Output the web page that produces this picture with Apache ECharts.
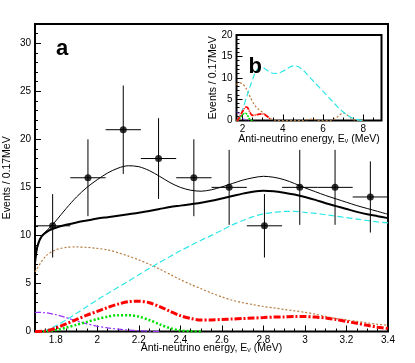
<!DOCTYPE html>
<html><head><meta charset="utf-8">
<script src="https://cdn.jsdelivr.net/npm/echarts@6/dist/echarts.min.js"></script>
<style>html,body{margin:0;padding:0;background:#fff}#c{width:415px;height:363px}</style>
</head><body><div id="c"></div>
<script>
// ---- data ----
const eBlack = [1.7,1.711,1.732,1.77,1.8,1.85,1.9,1.95,2.0,2.05,2.1,2.15,2.2,2.25,2.3,2.35,2.4,2.45,2.5,2.55,2.6,2.65,2.7,2.75,2.8,2.85,2.9,2.95,3.0,3.05,3.1,3.15,3.2,3.25,3.3,3.35,3.4];
const fitWithGeo = [7.1,8.8,9.9,10.8,11.5,12.8,14.0,15.0,15.8,16.5,17.0,17.25,17.15,16.75,16.15,15.5,15.0,14.7,14.6,14.75,15.05,15.4,15.75,16.0,16.15,16.05,15.8,15.4,14.95,14.55,14.15,13.8,13.45,13.1,12.8,12.5,12.2];
const fitNoGeo = [7.1,8.8,9.9,10.55,10.8,11.1,11.35,11.55,11.75,11.9,12.05,12.2,12.35,12.55,12.75,12.95,13.1,13.25,13.4,13.6,13.85,14.1,14.35,14.55,14.65,14.6,14.45,14.25,14.0,13.7,13.35,13.05,12.75,12.45,12.2,12.0,11.8];

const eMain = [1.7,1.75,1.8,1.85,1.9,1.95,2.0,2.05,2.1,2.15,2.2,2.25,2.3,2.35,2.4,2.45,2.5,2.55,2.6,2.65,2.7,2.75,2.8,2.85,2.9,2.95,3.0,3.05,3.1,3.15,3.2,3.25,3.3,3.35,3.4];
const reactor = [0,0.1,0.6,1.2,1.9,2.6,3.3,3.95,4.6,5.25,5.9,6.55,7.2,7.8,8.4,8.95,9.5,10.0,10.55,11.1,11.55,11.95,12.25,12.4,12.5,12.5,12.4,12.3,12.15,12.0,11.85,11.7,11.55,11.4,11.3];
const alphaN = [6.2,7.8,8.5,8.75,8.8,8.75,8.65,8.5,8.2,7.85,7.45,7.0,6.5,5.95,5.4,4.9,4.45,4.0,3.6,3.25,3.0,2.8,2.6,2.45,2.3,2.15,2.0,1.8,1.55,1.35,1.2,1.05,0.9,0.75,0.65];
const uranium = [0,0.05,0.35,0.8,1.25,1.7,2.1,2.5,2.85,3.1,3.15,3.0,2.6,2.1,1.65,1.35,1.2,1.2,1.25,1.3,1.35,1.4,1.45,1.5,1.52,1.55,1.55,1.5,1.4,1.25,1.05,0.85,0.65,0.45,0.3];
const thorium = [0,0.02,0.15,0.4,0.7,1.0,1.3,1.55,1.7,1.7,1.55,1.2,0.75,0.35,0.1,0.02,0,null,null,null,null,null,null,null,null,null,null,null,null,null,null,null,null,null,null];
const accidental = [2.0,1.95,1.75,1.45,1.1,0.8,0.55,0.38,0.25,0.15,0.08,0.03,0,null,null,null,null,null,null,null,null,null,null,null,null,null,null,null,null,null,null,null,null,null,null];

const eInset = [1.7,1.8,2.0,2.2,2.4,2.6,2.8,3.0,3.2,3.4,3.6,3.8,4.0,4.2,4.4,4.6,4.8,5.0,5.2,5.4,5.6,5.8,6.0,6.2,6.4,6.6,6.8,7.0,7.2,7.4,7.6,7.8,8.0];
const reactorInset = [0,0.2,2.5,5.5,8.3,10.8,12.3,12.4,11.8,11.2,11.0,11.1,11.5,12.1,12.6,12.8,12.5,11.8,10.8,9.8,8.8,7.8,6.8,5.8,4.8,3.8,2.8,2.0,1.3,0.7,0.3,0.1,0];
const alphaNInset = [8.4,8.8,8.6,7.3,5.3,3.6,2.6,1.9,1.1,0.4,0.1,0,0,0,0,0,0,0,0.2,0.3,0.2,0,0,0,0,0.4,1.2,1.8,1.3,0.5,0.1,0,0];

const binCenters = [1.785,1.955,2.125,2.295,2.465,2.635,2.805,2.975,3.145,3.315];
const events = [11,16,21,18,16,15,11,15,15,14];
const eventErr = [3.3,4.0,4.6,4.2,4.0,3.9,3.3,3.9,3.9,3.7];
const binHalfWidth = 0.085;

const mainXTicks = [1.8,2.0,2.2,2.4,2.6,2.8,3.0,3.2,3.4];
const mainYTicks = [0,5,10,15,20,25,30];
const insetXTicks = [2,4,6,8];
const insetYTicks = [0,5,10,15,20];

// ---- helpers ----
const zip = (xs, ys) => xs.map((x, i) => [x, ys[i]]);
const steps = (a, b, s) => { const r = []; for (let v = a; v <= b + 1e-9; v += s) r.push(Math.round(v * 1000) / 1000); return r; };
const FONT = 'Liberation Sans, Arial, Helvetica, sans-serif';
const xTitle = 'Anti-neutrino energy, E{s|ν} (MeV)';
const xRich = { s: { fontSize: 7, fontFamily: FONT, color: '#000', verticalAlign: 'bottom', lineHeight: 7, padding: [6, 0, 0, 0] } };

function majorAxis(grid, min, max, ticks, name, nameGap) {
  return {
    gridIndex: grid, type: 'value', min, max,
    axisLine: { show: false }, splitLine: { show: false },
    axisTick: { show: true, inside: true, length: 6, customValues: ticks, lineStyle: { color: '#000', width: 1 } },
    axisLabel: { customValues: ticks, color: '#000', fontSize: 10, fontFamily: FONT, margin: 4 },
    name, nameLocation: 'middle', nameGap, nameMoveOverlap: false,
    nameTextStyle: { color: '#000', fontSize: 10.5, fontFamily: FONT, rich: xRich }
  };
}
function minorAxis(grid, min, max, ticks) {
  return {
    gridIndex: grid, type: 'value', min, max,
    axisLine: { show: false }, splitLine: { show: false }, axisLabel: { show: false },
    axisTick: { show: true, inside: true, length: 3, customValues: ticks, lineStyle: { color: '#000', width: 1 } }
  };
}
function lineSeries(xi, yi, data, color, width, type, z) {
  return { type: 'line', xAxisIndex: xi, yAxisIndex: yi, data, showSymbol: false, symbol: 'none', smooth: 0.3,
    connectNulls: false, lineStyle: { color, width, type }, z: z || 2, silent: true, animation: false };
}

const mainGrid = { left: 35, right: 27, top: 24, bottom: 31.5, outerBoundsMode: 'none', containLabel: false };
const insetGrid = { left: 236.5, right: 33.5, top: 35, bottom: 242.5, outerBoundsMode: 'none', containLabel: false };

const chart = echarts.init(document.getElementById('c'), null, { renderer: 'canvas' });
chart.setOption({
  animation: false,
  backgroundColor: '#fff',
  grid: [
    Object.assign({ show: true, borderColor: '#000', borderWidth: 2, backgroundColor: 'transparent' }, mainGrid),
    Object.assign({ show: false }, mainGrid),
    Object.assign({ show: true, borderColor: '#000', borderWidth: 2, backgroundColor: '#fff' }, insetGrid),
    Object.assign({ show: false }, insetGrid)
  ],
  xAxis: [
    majorAxis(0, 1.7, 3.4, mainXTicks, xTitle, 11.5),
    minorAxis(1, 1.7, 3.4, steps(1.7, 3.4, 0.05)),
    majorAxis(2, 1.7, 8.9, insetXTicks, xTitle, 13),
    minorAxis(3, 1.7, 8.9, steps(2, 8.5, 0.5))
  ],
  yAxis: [
    majorAxis(0, 0, 32, mainYTicks, 'Events / 0.17MeV', 22),
    minorAxis(1, 0, 32, steps(0, 32, 1)),
    majorAxis(2, 0, 20, insetYTicks, 'Events / 0.17MeV', 18),
    minorAxis(3, 0, 20, steps(0, 20, 1))
  ],
  graphic: [
    { type: 'text', x: 56, y: 49, style: { text: 'a', font: 'bold 22px ' + FONT, fill: '#000', verticalAlign: 'middle' }, z: 100 },
    { type: 'text', x: 248.5, y: 66.5, style: { text: 'b', font: 'bold 22px ' + FONT, fill: '#000', verticalAlign: 'middle' }, z: 100 }
  ],
  series: [
    lineSeries(0, 0, zip(eMain, alphaN), '#b87a3d', 1.2, [2, 2]),
    lineSeries(0, 0, zip(eMain, reactor), '#2ee6e6', 1.2, [6, 3]),
    lineSeries(0, 0, zip(eMain, accidental), '#9933ff', 1.2, [6, 2, 2, 2]),
    lineSeries(0, 0, zip(eMain, thorium), '#00e000', 2.5, [2, 2]),
    lineSeries(0, 0, zip(eMain, uranium), '#ff0000', 3, [7, 2, 2, 2]),
    lineSeries(0, 0, zip(eBlack, fitNoGeo), '#000', 2, 'solid', 3),
    lineSeries(0, 0, zip(eBlack, fitWithGeo), '#000', 1, 'solid', 3),
    {
      type: 'custom', xAxisIndex: 0, yAxisIndex: 0, z: 4, silent: true,
      data: binCenters.map((x, i) => [x, events[i], eventErr[i]]),
      encode: { x: 0, y: 1 },
      renderItem(params, api) {
        const x = api.value(0), y = api.value(1), e = api.value(2);
        const c = api.coord([x, y]);
        const t = api.coord([x, y + e]), b = api.coord([x, y - e]);
        const l = api.coord([x - binHalfWidth, y]), r = api.coord([x + binHalfWidth, y]);
        return { type: 'group', children: [
          { type: 'line', shape: { x1: c[0], y1: t[1], x2: c[0], y2: b[1] }, style: { stroke: '#000', lineWidth: 1 } },
          { type: 'line', shape: { x1: l[0], y1: c[1], x2: r[0], y2: c[1] }, style: { stroke: '#000', lineWidth: 1 } }
        ] };
      }
    },
    { type: 'scatter', xAxisIndex: 0, yAxisIndex: 0, z: 5, silent: true, symbol: 'circle', symbolSize: 7,
      itemStyle: { color: '#000' }, data: zip(binCenters, events) },
    lineSeries(2, 2, zip(eInset, alphaNInset), '#b87a3d', 1.2, [2, 2], 6),
    lineSeries(2, 2, zip(eInset, reactorInset), '#2ee6e6', 1.2, [6, 3], 6),
    lineSeries(2, 2, zip(eMain, accidental), '#9933ff', 1, [4, 2, 1, 2], 6),
    lineSeries(2, 2, zip(eMain, thorium), '#00e000', 1.5, [2, 1], 6),
    lineSeries(2, 2, zip(eMain, uranium), '#ff0000', 1.8, [5, 1, 1, 1], 6)
  ]
});
</script>
</body></html>
